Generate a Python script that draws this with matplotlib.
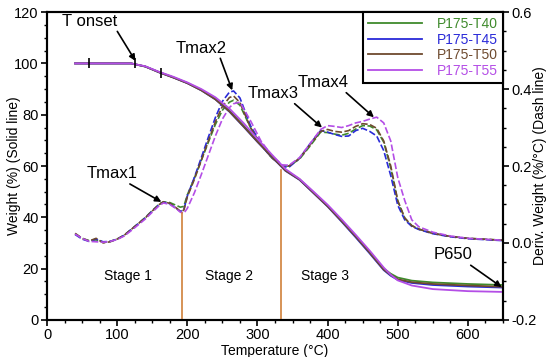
import matplotlib
matplotlib.use('Agg')
import matplotlib.pyplot as plt
from matplotlib.ticker import MultipleLocator

plt.rcParams['font.family'] = ['Liberation Sans', 'DejaVu Sans']

nombres = ['P175-T40', 'P175-T45', 'P175-T50', 'P175-T55']
colores = ['#3f8a2c', '#2a2ad8', '#6e4a2e', '#b44ee6']

# Peso (TGA), linea solida
t_tga = [40, 60, 80, 100, 120, 140, 160, 180, 200, 220, 240, 260, 280, 300,
         320, 340, 360, 380, 400, 420, 440, 460, 480, 490, 500, 520, 550, 600, 650]
w_t40 = [100, 100, 100, 100, 100, 98.8, 96.6, 94.6, 92.4, 89.7, 86.2, 81.6, 75.8, 69.8,
         64.0, 58.4, 54.8, 49.7, 44.5, 38.7, 32.7, 26.4, 20.0, 18.0, 16.5, 15.3, 14.6, 14.0, 13.6]
w_t45 = [100, 100, 100, 100, 100, 98.8, 96.5, 94.5, 92.3, 89.5, 86.0, 81.2, 75.4, 69.4,
         63.7, 58.1, 54.6, 49.4, 44.2, 38.3, 32.2, 25.9, 19.4, 17.2, 15.6, 14.4, 13.6, 13.0, 12.6]
w_t50 = [100, 100, 100, 100, 100, 98.8, 96.5, 94.5, 92.3, 89.5, 86.0, 81.3, 75.5, 69.5,
         63.8, 58.2, 54.7, 49.5, 44.3, 38.5, 32.5, 26.2, 19.6, 17.5, 15.8, 14.7, 14.0, 13.4, 12.9]
w_t55 = [100, 100, 100, 100, 100, 98.9, 96.7, 94.8, 92.6, 90.0, 86.8, 82.4, 76.8, 70.6,
         64.6, 58.8, 55.0, 50.0, 44.9, 39.2, 33.2, 27.0, 20.4, 17.6, 15.4, 13.4, 12.0, 11.2, 10.9]

# Derivada (DTG), linea discontinua
t_dtg = [40, 50, 60, 70, 80, 90, 100, 110, 120, 130, 140, 150, 160, 166, 175, 185, 190,
         195, 200, 210, 220, 230, 240, 250, 260, 266, 275, 290, 305, 320, 335, 345, 360,
         375, 390, 400, 410, 420, 430, 440, 450, 460, 470, 480, 490, 500, 510, 520, 530,
         550, 575, 600, 650]
d_t40 = [0.024, 0.012, 0.006, 0.008, 0.002, 0.004, 0.010, 0.020, 0.035, 0.050, 0.066, 0.084,
         0.101, 0.107, 0.105, 0.097, 0.093, 0.095, 0.125, 0.168, 0.215, 0.262, 0.308, 0.345,
         0.366, 0.371, 0.358, 0.300, 0.255, 0.222, 0.201, 0.200, 0.218, 0.252, 0.288, 0.287,
         0.283, 0.280, 0.285, 0.296, 0.305, 0.304, 0.294, 0.262, 0.195, 0.108, 0.064, 0.045,
         0.036, 0.025, 0.017, 0.012, 0.007]
d_t45 = [0.022, 0.010, 0.004, 0.010, 0.003, 0.004, 0.010, 0.020, 0.035, 0.050, 0.065, 0.083,
         0.100, 0.106, 0.102, 0.089, 0.082, 0.086, 0.122, 0.170, 0.222, 0.275, 0.326, 0.368,
         0.392, 0.395, 0.377, 0.305, 0.258, 0.224, 0.198, 0.197, 0.220, 0.258, 0.292, 0.288,
         0.282, 0.277, 0.278, 0.292, 0.298, 0.290, 0.278, 0.240, 0.175, 0.098, 0.060, 0.043,
         0.035, 0.024, 0.016, 0.011, 0.006]
d_t50 = [0.025, 0.012, 0.005, 0.012, 0.000, 0.003, 0.010, 0.020, 0.035, 0.050, 0.065, 0.083,
         0.100, 0.107, 0.103, 0.090, 0.082, 0.085, 0.120, 0.165, 0.215, 0.265, 0.315, 0.355,
         0.378, 0.382, 0.365, 0.300, 0.255, 0.222, 0.200, 0.200, 0.220, 0.255, 0.290, 0.295,
         0.290, 0.288, 0.292, 0.303, 0.310, 0.308, 0.298, 0.265, 0.200, 0.110, 0.065, 0.045,
         0.036, 0.025, 0.017, 0.012, 0.007]
d_t55 = [0.023, 0.012, 0.004, 0.003, 0.002, 0.004, 0.009, 0.018, 0.032, 0.047, 0.062, 0.080,
         0.097, 0.104, 0.100, 0.088, 0.080, 0.077, 0.090, 0.130, 0.178, 0.228, 0.278, 0.322,
         0.352, 0.362, 0.366, 0.318, 0.265, 0.228, 0.203, 0.202, 0.222, 0.258, 0.295, 0.305,
         0.303, 0.300, 0.305, 0.312, 0.316, 0.322, 0.327, 0.312, 0.265, 0.170, 0.110, 0.060,
         0.042, 0.028, 0.018, 0.012, 0.007]

pesos = [w_t40, w_t45, w_t50, w_t55]
derivadas = [d_t40, d_t45, d_t50, d_t55]

fig = plt.figure(figsize=(5.5, 3.57), dpi=100)
ax = fig.add_axes([0.0855, 0.104, 0.829, 0.862])
ax2 = ax.twinx()

lineas = []
for w, c, n in zip(pesos, colores, nombres):
    l, = ax.plot(t_tga, w, color=c, lw=1.3, label=n)
    lineas.append(l)
for d, c in zip(derivadas, colores):
    ax2.plot(t_dtg, d, color=c, lw=1.2, ls=(0, (4, 1.5)))

# marcas en la curva de T onset
ax.plot([60, 126, 163], [100, 100.3, 96.2], ls='none', marker='|', ms=7, mew=1.2, color='black')

# lineas de etapas
ax.plot([192, 192], [0, 41.5], color='#d0803a', lw=1.2)
ax.plot([334, 334], [0, 58.5], color='#d0803a', lw=1.2)

ax.set_xlim(0, 650)
ax.set_ylim(0, 120)
ax2.set_ylim(-0.2, 0.6)

ax.xaxis.set_major_locator(MultipleLocator(100))
ax.xaxis.set_minor_locator(MultipleLocator(25))
ax.yaxis.set_major_locator(MultipleLocator(20))
ax.yaxis.set_minor_locator(MultipleLocator(5))
ax2.set_yticks([-0.2, 0.0, 0.2, 0.4, 0.6])
ax2.set_yticklabels(['-0.2', '0.0', '0.2', '0.4', '0.6'])
ax2.yaxis.set_minor_locator(MultipleLocator(0.05))

for a in (ax, ax2):
    a.tick_params(which='major', direction='out', length=4, width=1.2, labelsize=10.5, pad=2)
    a.tick_params(which='minor', direction='out', length=2.5, width=1)
    for s in a.spines.values():
        s.set_linewidth(1.5)
ax.tick_params(top=False, right=False)

ax.set_xlabel('Temperature (°C)', fontsize=10, labelpad=1)
ax.set_ylabel('Weight (%) (Solid line)', fontsize=10)
ax2.set_ylabel('Deriv. Weight (%/°C) (Dash line)', fontsize=10)
ax.yaxis.set_label_coords(-0.072, 0.5)
ax2.yaxis.set_label_coords(1.082, 0.5)
ax.yaxis.label.set_va('center')
ax2.yaxis.label.set_va('center')

flecha = dict(arrowstyle='-|>', color='black', lw=1.2, mutation_scale=9, shrinkA=0, shrinkB=0)
ax.annotate('T onset', xy=(126, 101), xytext=(61, 116.5), ha='center', va='center',
            fontsize=12, arrowprops=dict(flecha, relpos=(0.95, 0.1)))
ax.annotate('Tmax1', xy=(163, 46), xytext=(93, 57), ha='center', va='center',
            fontsize=12, arrowprops=dict(flecha, relpos=(0.75, 0.0)))
ax.annotate('Tmax2', xy=(264, 89.5), xytext=(220, 106), ha='center', va='center',
            fontsize=12, arrowprops=dict(flecha, relpos=(0.85, 0.0)))
ax.annotate('Tmax3', xy=(392, 75), xytext=(323, 88.3), ha='center', va='center',
            fontsize=12, arrowprops=dict(flecha, relpos=(0.85, 0.0)))
ax.annotate('Tmax4', xy=(466, 79), xytext=(393, 92.6), ha='center', va='center',
            fontsize=12, arrowprops=dict(flecha, relpos=(0.9, 0.0)))
ax.annotate('P650', xy=(648, 12.8), xytext=(579, 25.3), ha='center', va='center',
            fontsize=12, arrowprops=dict(flecha, relpos=(0.85, 0.0)))

ax.text(116, 17, 'Stage 1', ha='center', va='center', fontsize=10)
ax.text(259, 17, 'Stage 2', ha='center', va='center', fontsize=10)
ax.text(396, 17, 'Stage 3', ha='center', va='center', fontsize=10)

leg = ax.legend(handles=lineas, loc='upper right', borderaxespad=0, fontsize=10,
                handlelength=3.9, handletextpad=1.1, labelspacing=0.12,
                fancybox=False, framealpha=1, edgecolor='black', borderpad=0.35)
leg.get_frame().set_linewidth(1.5)
for txt, c in zip(leg.get_texts(), colores):
    txt.set_color(c)
ax.set_zorder(ax2.get_zorder() + 1)
ax.patch.set_visible(False)

fig.savefig('out.png', dpi=100)
